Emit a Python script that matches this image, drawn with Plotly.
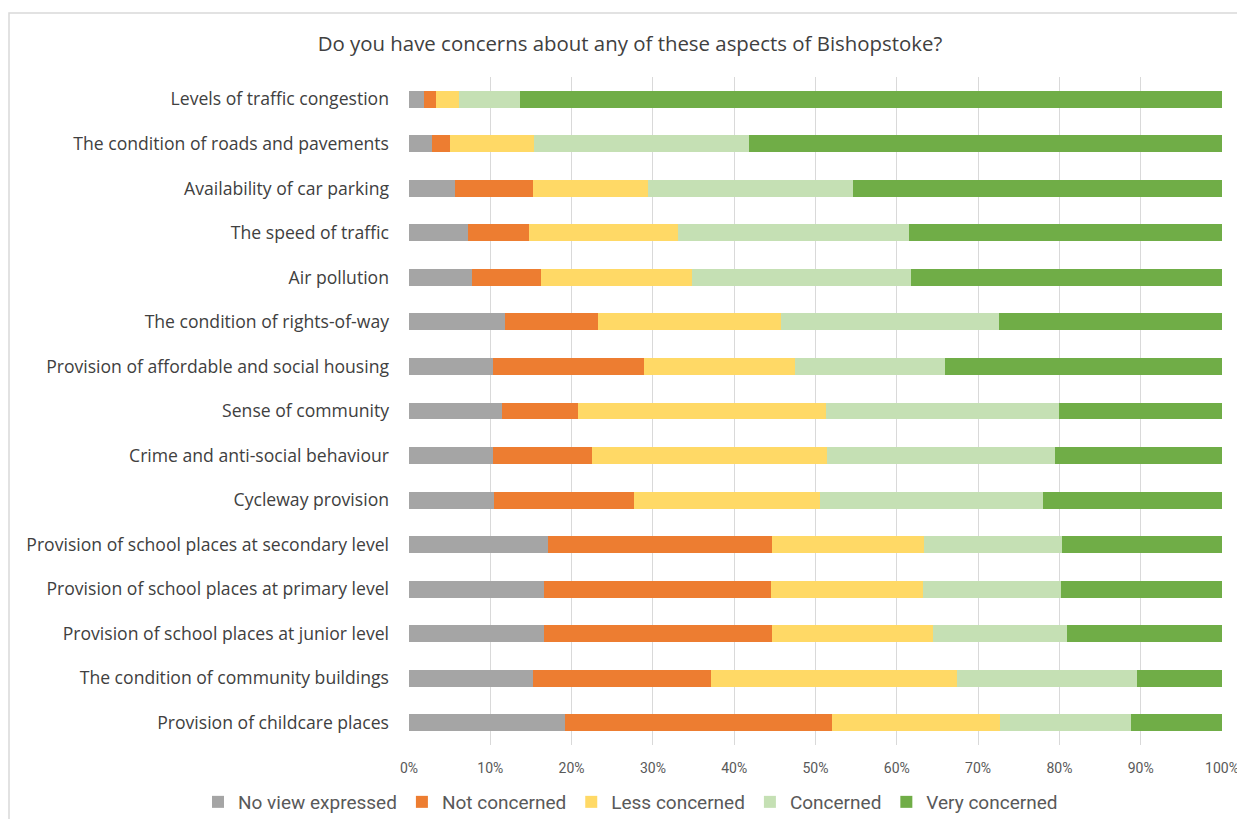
import plotly.graph_objects as go

categories = [
    "Levels of traffic congestion",
    "The condition of roads and pavements",
    "Availability of car parking",
    "The speed of traffic",
    "Air pollution",
    "The condition of rights-of-way",
    "Provision of affordable and social housing",
    "Sense of community",
    "Crime and anti-social behaviour",
    "Cycleway provision",
    "Provision of school places at secondary level",
    "Provision of school places at primary level",
    "Provision of school places at junior level",
    "The condition of community buildings",
    "Provision of childcare places",
]

no_view = [1.8, 2.8, 5.7, 7.2, 7.8, 11.8, 10.3, 11.4, 10.3, 10.5, 17.1, 16.6, 16.6, 15.2, 19.2]
not_concerned = [1.5, 2.3, 9.6, 7.5, 8.4, 11.4, 18.6, 9.4, 12.2, 17.2, 27.5, 27.9, 28.0, 21.9, 32.8]
less_concerned = [2.8, 10.3, 14.1, 18.4, 18.6, 22.6, 18.6, 30.5, 28.9, 22.9, 18.8, 18.7, 19.9, 30.3, 20.7]
concerned = [7.6, 26.4, 25.2, 28.4, 26.9, 26.8, 18.4, 28.6, 28.1, 27.4, 16.9, 17.0, 16.4, 22.2, 16.1]
very_concerned = [86.3, 58.2, 45.4, 38.5, 38.3, 27.4, 34.1, 20.1, 20.5, 22.0, 19.7, 19.8, 19.1, 10.4, 11.2]

series_names = ["No view expressed", "Not concerned", "Less concerned", "Concerned", "Very concerned"]
series_values = [no_view, not_concerned, less_concerned, concerned, very_concerned]
colors = ["#A5A5A5", "#ED7D31", "#FFD966", "#C5E0B4", "#70AD47"]

tick_vals = [0, 10, 20, 30, 40, 50, 60, 70, 80, 90, 100]
tick_text = [f"{v}%" for v in tick_vals]

# page body has an 8px margin, so figure coordinates = image coordinates - 8
W, H = 1237, 811
L, R, T, B = 401, 23, 69, 74
PW, PH = W - L - R, H - T - B

fig = go.Figure()
for name, vals, col in zip(series_names, series_values, colors):
    fig.add_trace(go.Bar(
        y=categories, x=vals, name=name, orientation="h",
        marker=dict(color=col, line=dict(width=0)),
    ))

fig.update_layout(
    width=W, height=H,
    barmode="stack", barnorm="percent", bargap=0.62,
    paper_bgcolor="white", plot_bgcolor="white",
    margin=dict(l=L, r=R, t=T, b=B, autoexpand=False),
    title=dict(text="Do you have concerns about any of these aspects of Bishopstoke?",
               x=(630 - 8) / W, xanchor="center", y=1 - (44 - 8) / H, yanchor="middle",
               font=dict(family="Open Sans", size=20.4, color="#404040")),
    font=dict(family="Open Sans", color="#404040"),
    showlegend=True,
    legend=dict(orientation="h", xref="paper", yref="paper",
                x=(198 - 8 - L) / PW, xanchor="left",
                y=-(802 - 8 - (H - B)) / PH, yanchor="middle",
                font=dict(family="Roboto", size=19, color="#595959"),
                itemwidth=30, traceorder="normal"),
    xaxis=dict(range=[0, 100], tickvals=tick_vals, ticktext=tick_text, automargin=False,
               showgrid=True, gridcolor="#D9D9D9", gridwidth=1, zeroline=False,
               showline=False, ticks="", ticklabelstandoff=13,
               tickfont=dict(family="Roboto", size=14, color="#595959")),
    yaxis=dict(autorange="reversed", showgrid=False, ticks="", showline=False,
               automargin=False, ticklabelstandoff=19,
               tickfont=dict(family="Open Sans", size=17.6, color="#404040")),
    shapes=[dict(type="rect", xref="paper", yref="paper",
                 x0=(1 - L) / PW, x1=1.2, y0=-0.3, y1=1 + (T - 5) / PH,
                 line=dict(color="#D9D9D9", width=1.5), fillcolor="rgba(0,0,0,0)", layer="below")],
)

fig.write_html("out.html")
